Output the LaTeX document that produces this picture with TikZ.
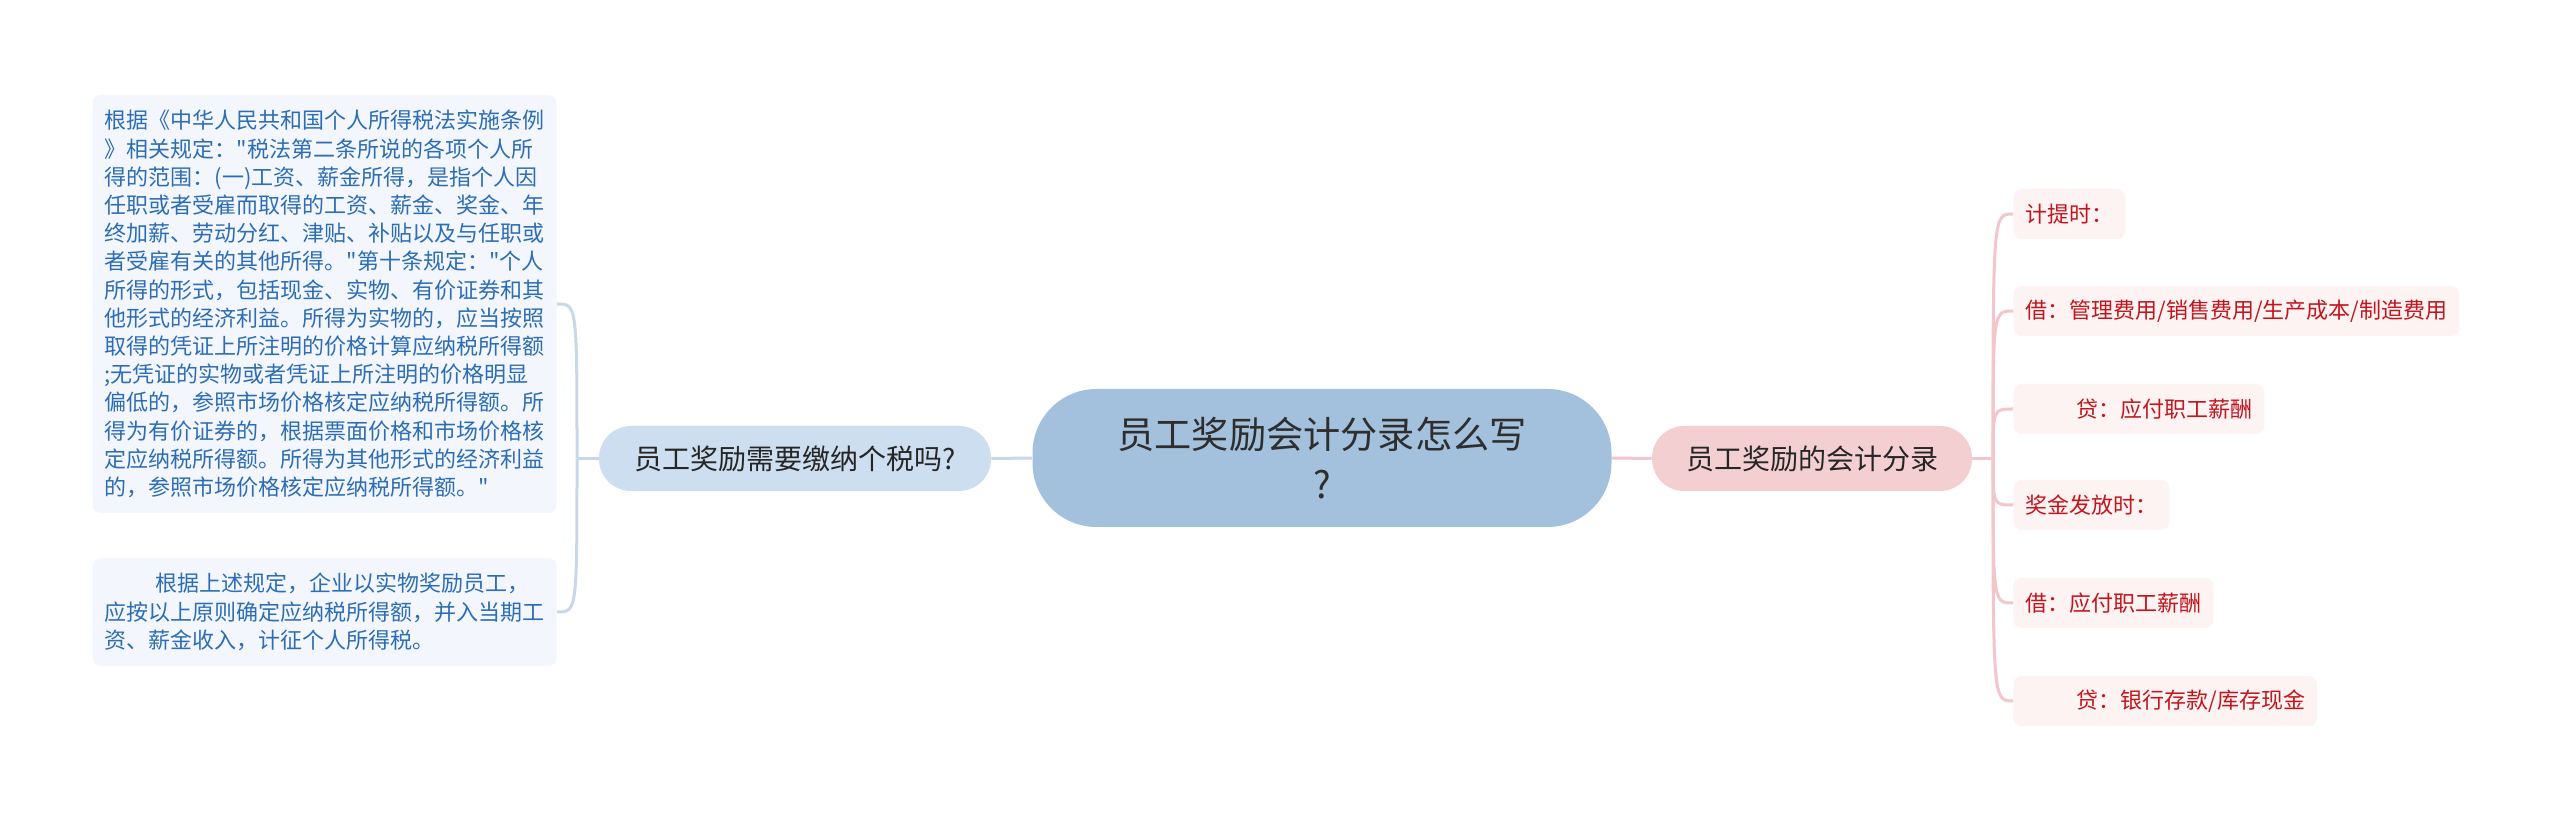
\documentclass[tikz,border=0pt]{standalone}
\usepackage{fontspec}
\setmainfont{Noto Sans CJK SC}
\newfontfamily\cjkfont{Noto Sans CJK SC}
\usepackage{xcolor}
\usepackage{tikz}
\usetikzlibrary{positioning}
\definecolor{RootBlue}{HTML}{A3C0DC}
\definecolor{SubBlue}{HTML}{CDDEF0}
\definecolor{SubPink}{HTML}{F4CFD2}
\definecolor{LeafBlue}{HTML}{F3F7FD}
\definecolor{LeafPink}{HTML}{FDF3F3}
\definecolor{TextBlue}{HTML}{2D6DB5}
\definecolor{TextRed}{HTML}{C2161E}
\definecolor{LineBlue}{HTML}{C9D8E8}
\definecolor{LinePink}{HTML}{F2C6CA}
\tikzset{
    leafnode/.style={rectangle, rounded corners=4pt, inner xsep=6pt, inner ysep=0pt, minimum height=25pt, font=\cjkfont\fontsize{11}{14.1}\selectfont},
    subnode/.style={rectangle, rounded corners=16pt, minimum height=32.5pt, inner sep=0pt, text=black!85, font=\cjkfont\fontsize{14}{17}\selectfont}
}

\begin{document}
\begin{tikzpicture}[
        x=0.5pt, y=-0.5pt,
        % nut goc
        rootnode/.style={
            rectangle,
            rounded corners=32pt,
            fill=RootBlue,
            text=black!82,
            minimum width=289.5pt,
            minimum height=69pt,
            align=center,
            font=\cjkfont\fontsize{18.6}{25}\selectfont
        },
        % la ben trai
        lleaf/.style={leafnode, fill=LeafBlue, text=TextBlue, align=left, inner ysep=6pt, anchor=east},
        % la ben phai
        rleaf/.style={leafnode, fill=LeafPink, text=TextRed, anchor=west},
        % duong noi
        lline/.style={draw=LineBlue, line width=1.5pt},
        rline/.style={draw=LinePink, line width=1.5pt}
    ]

        \path[fill=white, use as bounding box] (0,0) rectangle (2560,822);

        % --- NUT GOC VA HAI NHANH ---
        \node[rootnode] (root) at (1322,458) {员工奖励会计分录怎么写\\?};
        \node[subnode, fill=SubBlue, minimum width=196pt] (lsub) at (795,458.5) {员工奖励需要缴纳个税吗?};
        \node[subnode, fill=SubPink, minimum width=160pt] (rsub) at (1812,458.5) {员工奖励的会计分录};

        \draw[lline] (root.west) -- (lsub.east);
        \draw[rline] (root.east) -- (rsub.west);

        % --- NHANH TRAI ---
        \node[lleaf, minimum height=209pt] (L1) at (557,304) {根据《中华人民共和国个人所得税法实施条例\\》相关规定："税法第二条所说的各项个人所\\得的范围：(一)工资、薪金所得，是指个人因\\任职或者受雇而取得的工资、薪金、奖金、年\\终加薪、劳动分红、津贴、补贴以及与任职或\\者受雇有关的其他所得。"第十条规定："个人\\所得的形式，包括现金、实物、有价证券和其\\他形式的经济利益。所得为实物的，应当按照\\取得的凭证上所注明的价格计算应纳税所得额\\;无凭证的实物或者凭证上所注明的价格明显\\偏低的，参照市场价格核定应纳税所得额。所\\得为有价证券的，根据票面价格和市场价格核\\定应纳税所得额。所得为其他形式的经济利益\\的，参照市场价格核定应纳税所得额。"};
        \node[lleaf, minimum height=54pt] (L2) at (557,612) {\hspace*{25.5pt}根据上述规定，企业以实物奖励员工，\\应按以上原则确定应纳税所得额，并入当期工\\资、薪金收入，计征个人所得税。};

        \coordinate (ltrunk) at (577,458.5);
        \draw[lline] (lsub.west) -- (ltrunk);
        \foreach \leaf in {L1, L2} {
            \draw[lline] (ltrunk) .. controls (ltrunk |- \leaf.east) and (ltrunk |- \leaf.east) .. (\leaf.east);
        }

        % --- NHANH PHAI ---
        \node[rleaf] (R1) at (2013,214) {计提时：};
        \node[rleaf] (R2) at (2013,311) {借：管理费用/销售费用/生产成本/制造费用};
        \node[rleaf] (R3) at (2013,409) {\hspace*{25.5pt}贷：应付职工薪酬};
        \node[rleaf] (R4) at (2013,505) {奖金发放时：};
        \node[rleaf] (R5) at (2013,603) {借：应付职工薪酬};
        \node[rleaf] (R6) at (2013,701) {\hspace*{25.5pt}贷：银行存款/库存现金};

        \coordinate (rtrunk) at (1993,458.5);
        \draw[rline] (rsub.east) -- (rtrunk);
        \foreach \leaf in {R1, R2, R3, R4, R5, R6} {
            \draw[rline] (rtrunk) .. controls (rtrunk |- \leaf.west) and (rtrunk |- \leaf.west) .. (\leaf.west);
        }

    \end{tikzpicture}
\end{document}
